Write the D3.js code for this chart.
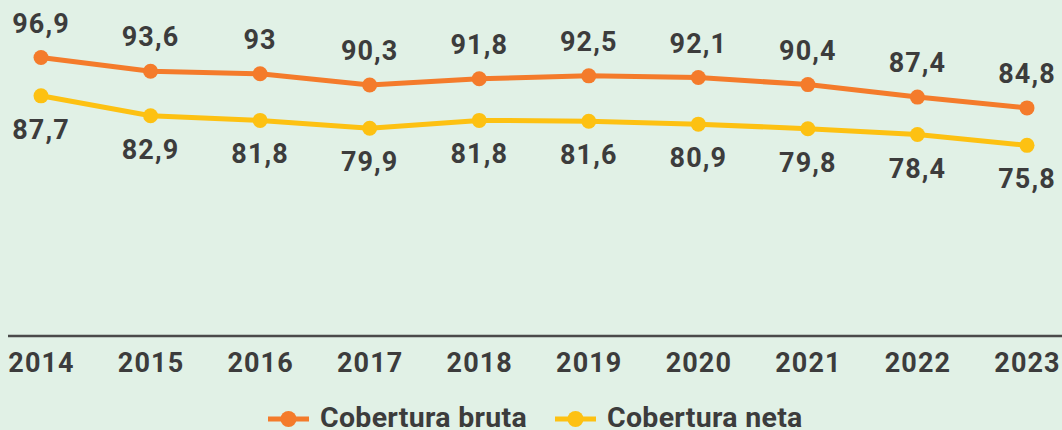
<!DOCTYPE html>
<html>
<head>
<meta charset="utf-8">
<script src="https://cdn.jsdelivr.net/npm/d3@7"></script>
<style>
  html, body { margin: 0; padding: 0; background: #e1f1e6; }
  svg { display: block; font-family: Roboto, "Noto Sans", sans-serif; }
</style>
</head>
<body>
<div id="graph"></div>
<script>
var years = ["2014", "2015", "2016", "2017", "2018", "2019", "2020", "2021", "2022", "2023"]
var bruta = [96.9, 93.6, 93, 90.3, 91.8, 92.5, 92.1, 90.4, 87.4, 84.8]
var neta = [87.7, 82.9, 81.8, 79.9, 81.8, 81.6, 80.9, 79.8, 78.4, 75.8]
var seriesNames = ["Cobertura bruta", "Cobertura neta"]

var width = 1062, height = 430
var colors = ["#f47b2b", "#fdc112"]
var textColor = "#3c3c3c"

var svg = d3.select("#graph").append("svg")
    .attr("width", width).attr("height", height)

svg.append("rect").attr("width", width).attr("height", height).attr("fill", "#e1f1e6")

var x = d3.scalePoint().domain(years).range([41, 1027])
var y = d3.scaleLinear().domain([30, 110]).range([336, 3])

// x axis
var xAxis = svg.append("g")
    .attr("transform", "translate(0,336)")
    .call(d3.axisBottom(x).tickSize(0).tickPadding(17))
xAxis.select(".domain").remove()
xAxis.append("line")
    .attr("x1", 8).attr("x2", width)
    .attr("stroke", "#4a4a4a").attr("stroke-width", 2.5)
xAxis.selectAll("text")
    .attr("fill", textColor)
    .attr("font-size", 27)
    .attr("font-weight", 700)
    .attr("letter-spacing", 1.1)
    .attr("font-family", "Roboto, sans-serif")

var line = d3.line()
    .x(function(d, i) { return x(years[i]) })
    .y(function(d) { return y(d) })

var fmt = function(v) { return String(v).replace(".", ",") }

;[bruta, neta].forEach(function(data, k) {
    var g = svg.append("g")
    g.append("path")
        .datum(data)
        .attr("d", line)
        .attr("fill", "none")
        .attr("stroke", colors[k])
        .attr("stroke-width", 5)
    g.selectAll("circle")
        .data(data)
        .enter().append("circle")
        .attr("cx", function(d, i) { return x(years[i]) })
        .attr("cy", function(d) { return y(d) })
        .attr("r", 7.5)
        .attr("fill", colors[k])
    g.selectAll("text")
        .data(data)
        .enter().append("text")
        .attr("x", function(d, i) { return x(years[i]) })
        .attr("y", function(d) { return k == 0 ? y(d) - 25 : y(d) + 43 })
        .attr("text-anchor", "middle")
        .attr("font-size", 27)
        .attr("font-weight", 700)
        .attr("letter-spacing", 1.1)
        .attr("fill", textColor)
        .text(fmt)
})

// legend
var legendX = [268, 555]
var legend = svg.append("g")
    .selectAll("g")
    .data(seriesNames)
    .enter().append("g")
    .attr("transform", function(d, i) { return "translate(" + legendX[i] + ",419)" })
legend.append("line")
    .attr("x1", 0).attr("x2", 41)
    .attr("stroke", function(d, i) { return colors[i] })
    .attr("stroke-width", 5)
legend.append("circle")
    .attr("cx", 20.5).attr("r", 8)
    .attr("fill", function(d, i) { return colors[i] })
legend.append("text")
    .attr("x", 52).attr("y", 8)
    .attr("font-size", 28.5)
    .attr("font-weight", 700)
    .attr("letter-spacing", 0.3)
    .attr("fill", textColor)
    .text(function(d) { return d })
</script>
</body>
</html>
